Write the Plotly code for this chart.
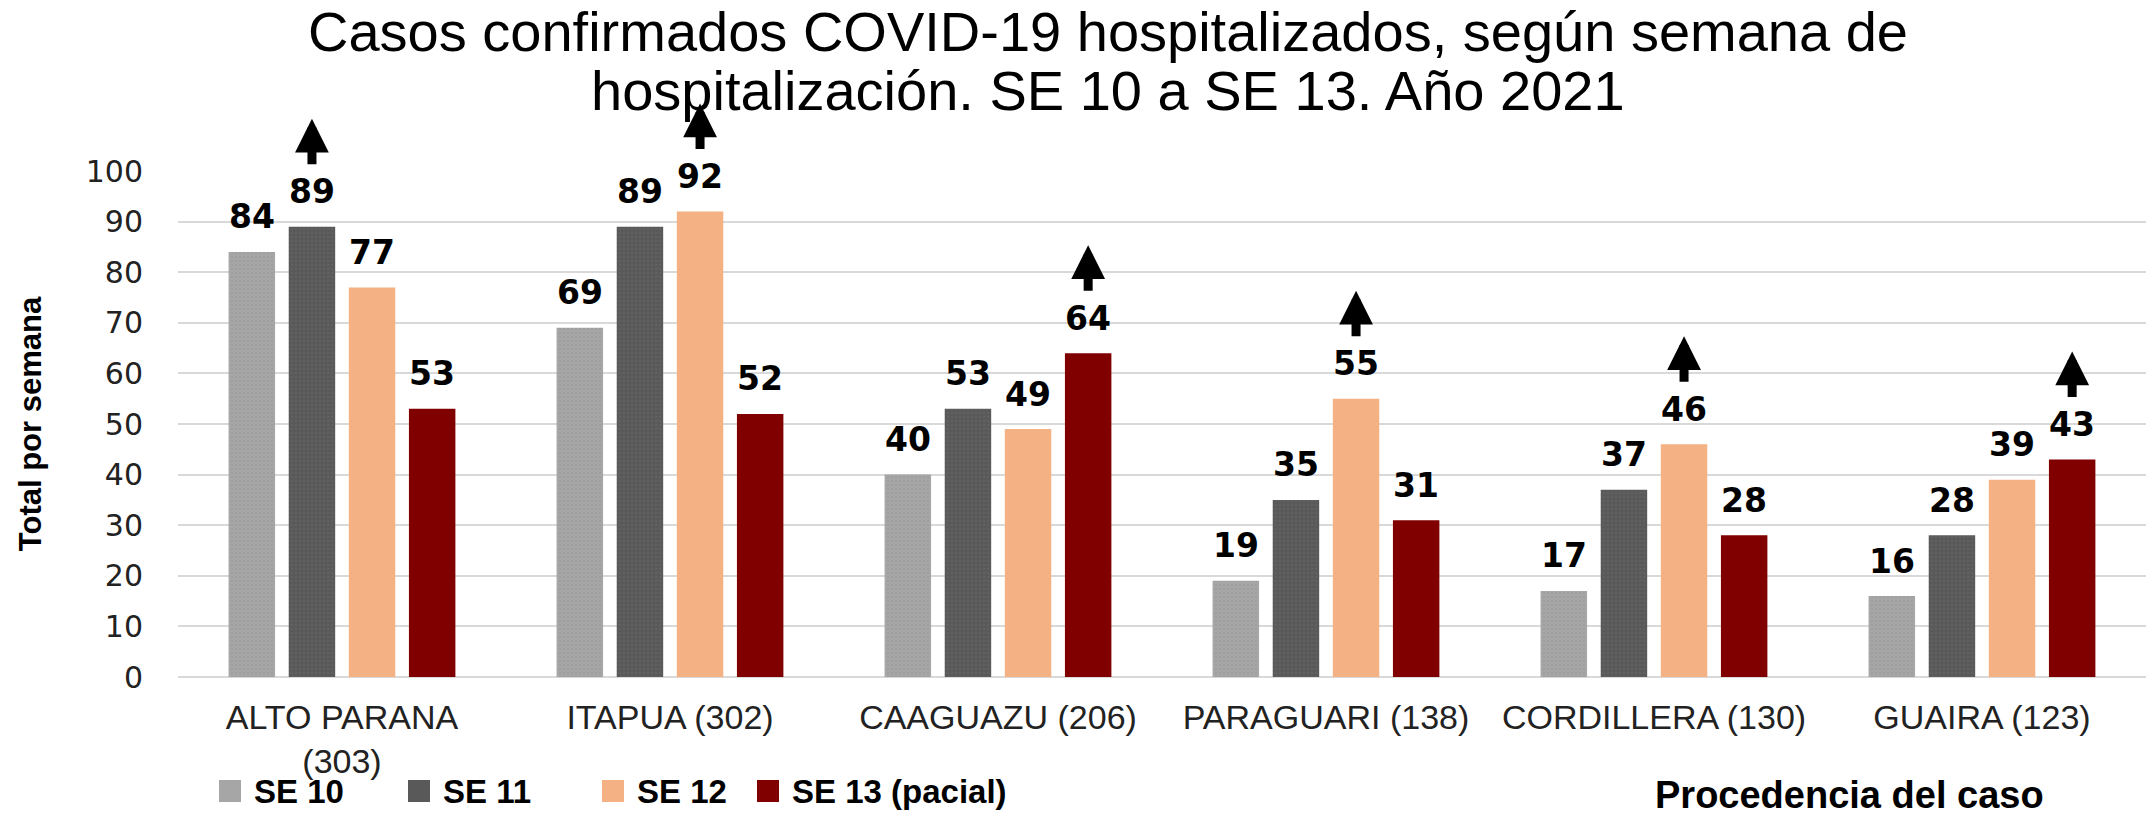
import plotly.graph_objects as go

# Departments (with total hospitalised cases) and weekly counts
departamentos = ["ALTO PARANA<br>(303)", "ITAPUA (302)", "CAAGUAZU (206)",
                 "PARAGUARI (138)", "CORDILLERA (130)", "GUAIRA (123)"]
series_names = ["SE 10", "SE 11", "SE 12", "SE 13 (pacial)"]
se10 = [84, 69, 40, 19, 17, 16]
se11 = [89, 89, 53, 35, 37, 28]
se12 = [77, 92, 49, 55, 46, 39]
se13 = [53, 52, 64, 31, 28, 43]
y_ticks = [0, 10, 20, 30, 40, 50, 60, 70, 80, 90, 100]
title_lines = ["Casos confirmados COVID-19 hospitalizados, según semana de",
               "hospitalización. SE 10 a SE 13. Año 2021"]

series_values = [se10, se11, se12, se13]
colors = ["#A6A6A6", "#595959", "#F4B183", "#800000"]
patterns = [
    dict(shape=".", fgcolor="#959595", bgcolor="#A6A6A6", size=4, solidity=0.25),
    dict(shape=".", fgcolor="#6A6A6A", bgcolor="#595959", size=4, solidity=0.25),
    None,
    None,
]

W, H = 2146, 815
M_L, M_R, M_T, M_B = 178, 0, 171, 138
BARGAP = 0.267
BARGROUPGAP = 0.227

fig = go.Figure()
for name, vals, col, pat in zip(series_names, series_values, colors, patterns):
    marker = dict(color=col, line=dict(width=0))
    if pat:
        marker["pattern"] = pat
    fig.add_trace(go.Bar(name=name, x=departamentos, y=vals, marker=marker,
                         showlegend=False))

n = len(series_values)
slot = (1 - BARGAP) / n
annotations = []
for k, vals in enumerate(series_values):
    for i, v in enumerate(vals):
        xpos = i + (k - (n - 1) / 2) * slot
        annotations.append(dict(
            x=xpos, y=v, xref="x", yref="y", text=f"<b>{v}</b>",
            showarrow=False, yanchor="middle", yshift=35,
            font=dict(family="DejaVu Sans", size=33, color="black")))

# Upward arrow above the peak week of each department
for i in range(len(departamentos)):
    week_vals = [s[i] for s in series_values]
    k = week_vals.index(max(week_vals))
    xpos = i + (k - (n - 1) / 2) * slot
    annotations.append(dict(
        x=xpos, y=week_vals[k], xref="x", yref="y", text="",
        showarrow=True, ax=0, ay=47, axref="pixel", ayref="pixel",
        yshift=108, arrowhead=2, arrowsize=0.75, arrowwidth=9,
        arrowcolor="black"))

def px_x(px):
    return (px - M_L) / (W - M_L - M_R)

def px_y(py):
    return (H - M_B - py) / (H - M_T - M_B)

# Second title line, set close under the first
annotations.append(dict(x=px_x(1108), y=px_y(90), xref="paper", yref="paper",
                        text=title_lines[1], showarrow=False,
                        xanchor="center", yanchor="middle",
                        font=dict(family="Liberation Sans", size=56, color="black")))

# Legend drawn as swatches + bold labels along the bottom
legend_sq = [219, 408, 602, 757]
legend_cy = 791
sq = 22
shapes = []
for name, col, x0 in zip(series_names, colors, legend_sq):
    shapes.append(dict(type="rect", xref="paper", yref="paper",
                       x0=px_x(x0), x1=px_x(x0 + sq),
                       y0=px_y(legend_cy + sq / 2), y1=px_y(legend_cy - sq / 2),
                       fillcolor=col, line=dict(width=0)))
    annotations.append(dict(x=px_x(x0 + sq + 11), y=px_y(legend_cy), xref="paper",
                            yref="paper", text=f"<b>{name}</b>", showarrow=False,
                            xanchor="left", yanchor="middle",
                            font=dict(family="Liberation Sans", size=33, color="black")))

annotations.append(dict(x=px_x(1849), y=px_y(795), xref="paper", yref="paper",
                        text="<b>Procedencia del caso</b>", showarrow=False,
                        xanchor="center", yanchor="middle",
                        font=dict(family="Liberation Sans", size=38, color="black")))

fig.update_layout(
    width=W, height=H,
    margin=dict(l=M_L, r=M_R, t=M_T, b=M_B),
    paper_bgcolor="white", plot_bgcolor="white",
    barmode="group", bargap=BARGAP, bargroupgap=BARGROUPGAP,
    title=dict(
        text=title_lines[0],
        x=1108 / W, xanchor="center", y=1 - 31 / H, yanchor="middle",
        font=dict(family="Liberation Sans", size=56, color="black")),
    annotations=annotations,
    shapes=shapes,
    xaxis=dict(
        tickfont=dict(family="Liberation Sans", size=34, color="#222222"),
        showline=False, showgrid=False, ticks="", ticklabelstandoff=17,
    ),
    yaxis=dict(
        range=[0, 100], tickvals=y_ticks,
        tickfont=dict(family="DejaVu Sans", size=30, color="#222222"),
        showgrid=True, gridcolor="#D9D9D9", gridwidth=2,
        zeroline=True, zerolinecolor="#D9D9D9", zerolinewidth=2,
        showline=False, ticks="", ticklabelstandoff=34,
        title=dict(text="<b>Total por semana</b>", standoff=34,
                   font=dict(family="Liberation Sans", size=31, color="black")),
    ),
)

fig.write_html("out.html")
